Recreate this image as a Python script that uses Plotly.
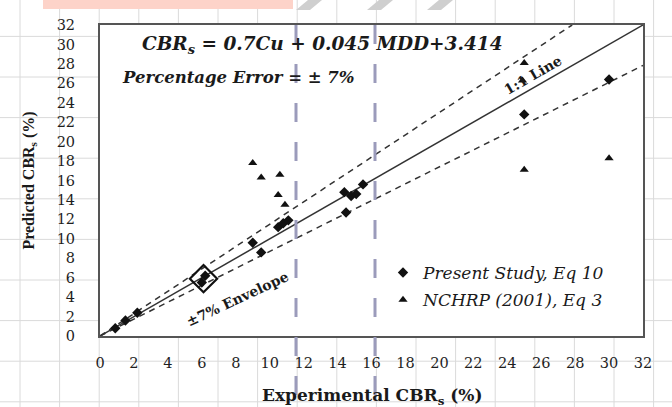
import plotly.graph_objects as go

# ---- data -------------------------------------------------------------
present_x = [0.9, 1.5, 2.2, 6.0, 6.2, 9.0, 9.5, 10.5, 10.8, 11.1,
             14.4, 14.8, 15.1, 15.5, 14.5, 25.0, 30.0]
present_y = [0.8, 1.6, 2.4, 5.5, 6.2, 9.6, 8.6, 11.2, 11.6, 11.9,
             14.8, 14.4, 14.6, 15.6, 12.7, 22.8, 26.4]
# overlapping group of present-study results around 6 %
cluster_x = [6.1]
cluster_y = [5.9]

nchrp_x = [9.0, 9.5, 10.6, 10.5, 10.9, 25.0, 24.9, 25.0, 30.0]
nchrp_y = [17.8, 16.3, 16.6, 14.5, 13.5, 28.1, 26.3, 17.1, 18.3]

axis_ticks = list(range(0, 33, 2))
axis_range = [0, 32]
envelope_upper = 1.15
envelope_lower = 0.87

# ---- page geometry (pixels) -------------------------------------------
W, H = 672, 407
L, R, T, B = 100, 643, 25, 336


def fx(p):
    return (p - L) / (R - L)


def fy(p):
    return (B - p) / (B - T)


SERIF = "DejaVu Serif"
TIMES = "Liberation Serif"
INK = "#1a1a1a"

fig = go.Figure()

# 1:1 line and the envelope
fig.add_trace(go.Scatter(x=axis_range, y=axis_range, mode="lines",
                         line=dict(color="#333333", width=1.5),
                         showlegend=False, hoverinfo="skip"))
up_x = [0, axis_range[1] / envelope_upper]
fig.add_trace(go.Scatter(x=up_x, y=[v * envelope_upper for v in up_x], mode="lines",
                         line=dict(color="#333333", width=1.5, dash="6px,5px"),
                         showlegend=False, hoverinfo="skip"))
lo_x = axis_range
fig.add_trace(go.Scatter(x=lo_x, y=[v * envelope_lower for v in lo_x], mode="lines",
                         line=dict(color="#333333", width=1.5, dash="6px,5px"),
                         showlegend=False, hoverinfo="skip"))

# scatter series
fig.add_trace(go.Scatter(x=cluster_x, y=cluster_y, mode="markers",
                         showlegend=False, legendgroup="a",
                         marker=dict(symbol="diamond-open", size=21, color="#111111",
                                     line=dict(width=2.2, color="#111111"))))
fig.add_trace(go.Scatter(x=present_x, y=present_y, mode="markers",
                         name="Present Study, Eq 10", legendgroup="a",
                         marker=dict(symbol="diamond", size=8, color="#111111",
                                     line=dict(width=0))))
fig.add_trace(go.Scatter(x=nchrp_x, y=nchrp_y, mode="markers",
                         name="NCHRP (2001), Eq 3", legendgroup="b",
                         marker=dict(symbol="triangle-up", size=8, color="#111111")))

# ---- background sheet grid --------------------------------------------
shapes = []
grid_col = "#dadada"
for k in range(17):
    gx = 20 + 39.6 * k
    shapes.append(dict(type="line", xref="paper", yref="paper", layer="below",
                       x0=fx(gx), x1=fx(gx), y0=fy(0), y1=fy(H),
                       line=dict(color=grid_col, width=1)))
for k in range(11):
    gy = -4.2 + 40.6 * k
    shapes.append(dict(type="line", xref="paper", yref="paper", layer="below",
                       x0=fx(0), x1=fx(W), y0=fy(gy), y1=fy(gy),
                       line=dict(color=grid_col, width=1)))
# white plotting area
shapes.append(dict(type="rect", xref="paper", yref="paper", layer="below",
                   x0=0, x1=1, y0=0, y1=1, fillcolor="white", line=dict(width=0)))
# header strip
shapes.append(dict(type="rect", xref="paper", yref="paper", layer="below",
                   x0=fx(43), x1=fx(293), y0=fy(0), y1=fy(9),
                   fillcolor="#fdd3c9", line=dict(width=0)))
for a in (296, 367, 427):
    path = "M {:.4f},{:.4f} L {:.4f},{:.4f} L {:.4f},{:.4f} L {:.4f},{:.4f} Z".format(
        fx(a), fy(10), fx(a + 14), fy(10), fx(a + 26), fy(0), fx(a + 12), fy(0))
    shapes.append(dict(type="path", xref="paper", yref="paper", layer="below",
                       path=path, fillcolor="#cfcfcf", line=dict(width=0)))
# page guide lines
for gx in (296, 375):
    shapes.append(dict(type="line", xref="paper", yref="paper", layer="above",
                       x0=fx(gx), x1=fx(gx), y0=fy(25), y1=fy(H),
                       line=dict(color="#9b9bbb", width=3, dash="19px,20px")))

# ---- annotations --------------------------------------------------------
annotations = [
    dict(text="CBR<sub>s</sub> = 0.7Cu + 0.045 MDD+3.414", xref="paper", yref="paper",
         x=fx(140), y=fy(45), xanchor="left", yanchor="middle", showarrow=False,
         font=dict(family=SERIF, size=18.5, color=INK, weight="bold", style="italic")),
    dict(text="Percentage Error = \u00b1 7%", xref="paper", yref="paper",
         x=fx(120), y=fy(78), xanchor="left", yanchor="middle", showarrow=False,
         font=dict(family=SERIF, size=16.5, color=INK, weight="bold", style="italic")),
    dict(text="1:1 Line", xref="paper", yref="paper", x=fx(533), y=fy(75),
         xanchor="center", yanchor="middle", textangle=-30, showarrow=False,
         font=dict(family=SERIF, size=14, color=INK, weight="bold")),
    dict(text="\u00b17% Envelope", xref="paper", yref="paper", x=fx(237), y=fy(299),
         xanchor="center", yanchor="middle", textangle=-25, showarrow=False,
         font=dict(family=SERIF, size=14, color=INK, weight="bold")),
    # x-axis title
    dict(text="Experimental CBR<sub>s</sub> (%)", xref="paper", yref="paper",
         x=fx(372), y=fy(396), xanchor="center", yanchor="middle", showarrow=False,
         font=dict(family=SERIF, size=17, color=INK, weight="bold")),
]

axis_common = dict(range=axis_range, tickmode="array", tickvals=axis_ticks,
                   ticks="", showgrid=False, zeroline=False,
                   showline=True, mirror=True, linecolor="#555555", linewidth=2,
                   tickfont=dict(family=SERIF, size=14.5, color="#1e1e1e"))

fig.update_layout(
    width=W, height=H,
    margin=dict(l=L, r=W - R, t=T, b=H - B, pad=0),
    paper_bgcolor="white", plot_bgcolor="rgba(0,0,0,0)",
    xaxis=dict(**axis_common, ticklabelstandoff=13),
    yaxis=dict(**axis_common, ticklabelstandoff=20,
               title=dict(text="Predicted CBR<sub>s</sub> (%)", standoff=18,
                          font=dict(family=TIMES, size=16, color=INK, weight="bold"))),
    legend=dict(x=fx(383), y=fy(255), xanchor="left", yanchor="top",
                bgcolor="rgba(0,0,0,0)", tracegroupgap=2,
                font=dict(family=SERIF, size=17, color=INK, style="italic")),
    shapes=shapes, annotations=annotations,
)

fig.write_html("out.html")
